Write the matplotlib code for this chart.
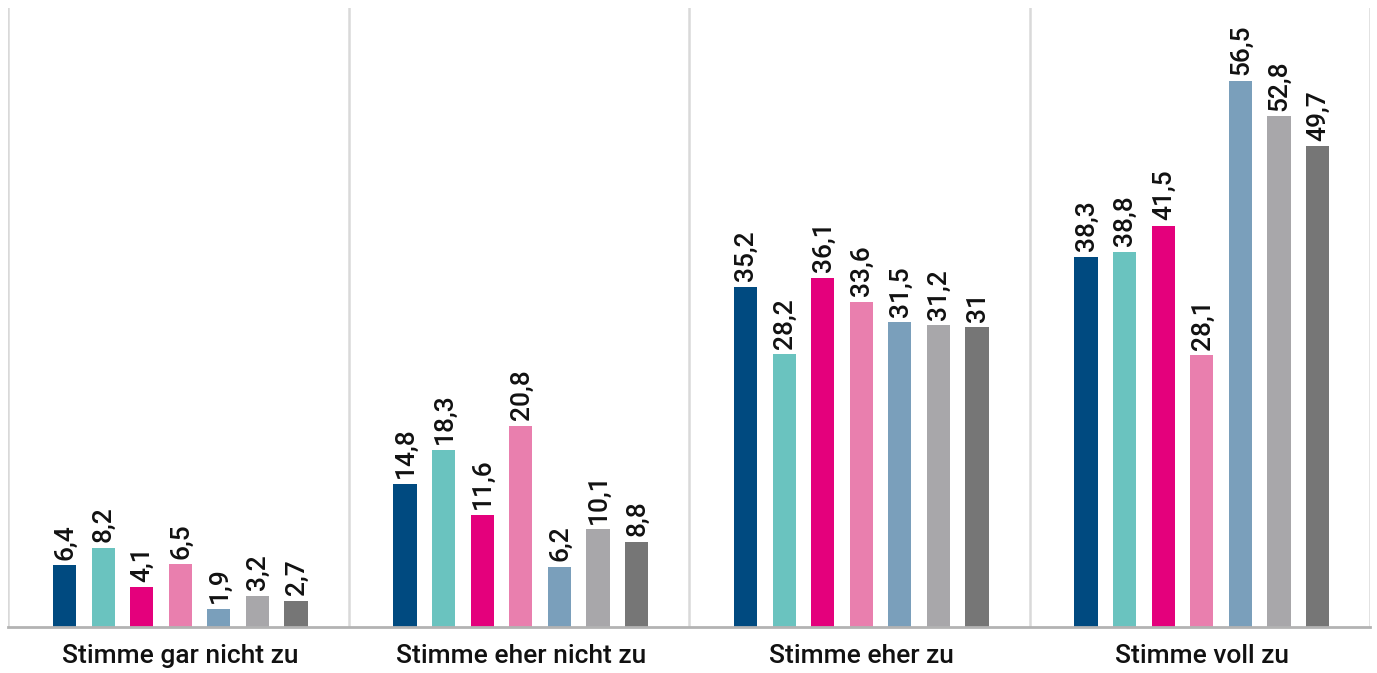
import numpy as np
import matplotlib.pyplot as plt

plt.rcParams['font.family'] = ['Roboto', 'DejaVu Sans']

categories = ['Stimme gar nicht zu', 'Stimme eher nicht zu', 'Stimme eher zu', 'Stimme voll zu']
series = [
    [6.4, 14.8, 35.2, 38.3],
    [8.2, 18.3, 28.2, 38.8],
    [4.1, 11.6, 36.1, 41.5],
    [6.5, 20.8, 33.6, 28.1],
    [1.9, 6.2, 31.5, 56.5],
    [3.2, 10.1, 31.2, 52.8],
    [2.7, 8.8, 31.0, 49.7],
]
colors = ['#004a80', '#6ac3bf', '#e4007c', '#e97fae', '#7a9fbb', '#a8a7aa', '#767676']

W, H = 1377, 673
fig = plt.figure(figsize=(W / 100, H / 100), dpi=100)
ax = fig.add_axes([8 / W, 46 / H, 1362 / W, 619 / H])

x = np.arange(len(categories))
pitch = 0.1133
width = 0.068
n = len(series)
for i, vals in enumerate(series):
    pos = x + 0.006 + (i - (n - 1) / 2) * pitch
    ax.bar(pos, vals, width=width, color=colors[i], zorder=2)
    for p, v in zip(pos, vals):
        txt = f'{v:g}'.replace('.', ',')
        ax.annotate(txt, (p, v), xytext=(0.5, 4), textcoords='offset points',
                    rotation=90, ha='center', va='bottom', fontsize=19,
                    fontweight='medium', color='#111111')

ax.set_xlim(-0.5, len(categories) - 0.5)
ax.set_ylim(0, 64)
for s in np.arange(-0.5, len(categories), 1.0):
    ax.axvline(s, color='#d9d9d9', lw=1.8, zorder=1)

for side in ['top', 'left', 'right']:
    ax.spines[side].set_visible(False)
ax.spines['bottom'].set_color('#b3b3b3')
ax.spines['bottom'].set_linewidth(2)
ax.set_yticks([])
ax.set_xticks(x + 0.006)
ax.set_xticklabels(categories, fontsize=19, fontweight='medium', color='#111111')
ax.tick_params(axis='x', length=0, pad=12)

fig.savefig('out.png', dpi=100)
